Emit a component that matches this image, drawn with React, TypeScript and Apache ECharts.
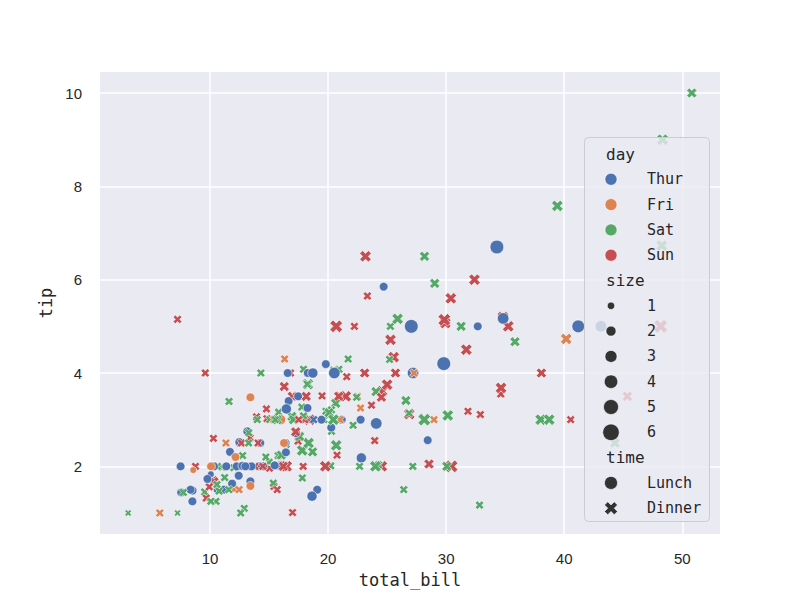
import { useEffect, useRef } from 'react';
import * as echarts from 'echarts';

const Th = 'Thur', Fr = 'Fri', Sa = 'Sat', Su = 'Sun';
const L = 'Lunch', D = 'Dinner';

const totalBill = [
  16.99, 10.34, 21.01, 23.68, 24.59, 25.29, 8.77, 26.88, 15.04, 14.78,
  10.27, 35.26, 15.42, 18.43, 14.83, 21.58, 10.33, 16.29, 16.97, 20.65,
  17.92, 20.29, 15.77, 39.42, 19.82, 17.81, 13.37, 12.69, 21.7, 19.65,
  9.55, 18.35, 15.06, 20.69, 17.78, 24.06, 16.31, 16.93, 18.69, 31.27,
  16.04, 17.46, 13.94, 9.68, 30.4, 18.29, 22.23, 32.4, 28.55, 18.04,
  12.54, 10.29, 34.81, 9.94, 25.56, 19.49, 38.01, 26.41, 11.24, 48.27,
  20.29, 13.81, 11.02, 18.29, 17.59, 20.08, 16.45, 3.07, 20.23, 15.01,
  12.02, 17.07, 26.86, 25.28, 14.73, 10.51, 17.92, 27.2, 22.76, 17.29,
  19.44, 16.66, 10.07, 32.68, 15.98, 34.83, 13.03, 18.28, 24.71, 21.16,
  28.97, 22.49, 5.75, 16.32, 22.75, 40.17, 27.28, 12.03, 21.01, 12.46,
  11.35, 15.38, 44.3, 22.42, 20.92, 15.36, 20.49, 25.21, 18.24, 14.31,
  14.0, 7.25, 38.07, 23.95, 25.71, 17.31, 29.93, 10.65, 12.43, 24.08,
  11.69, 13.42, 14.26, 15.95, 12.48, 29.8, 8.52, 14.52, 11.38, 22.82,
  19.08, 20.27, 11.17, 12.26, 18.26, 8.51, 10.33, 14.15, 16.0, 13.16,
  17.47, 34.3, 41.19, 27.05, 16.43, 8.35, 18.64, 11.87, 9.78, 7.51,
  14.07, 13.13, 17.26, 24.55, 19.77, 29.85, 48.17, 25.0, 13.39, 16.49,
  21.5, 12.66, 16.21, 13.81, 17.51, 24.52, 20.76, 31.71, 10.59, 10.63,
  50.81, 15.81, 7.25, 31.85, 16.82, 32.9, 17.89, 14.48, 9.6, 34.63,
  34.65, 23.33, 45.35, 23.17, 40.55, 20.69, 20.9, 30.46, 18.15, 23.1,
  15.69, 19.81, 28.44, 15.48, 16.58, 7.56, 10.34, 43.11, 13.0, 13.51,
  18.71, 12.74, 13.0, 16.4, 20.53, 16.47, 26.59, 38.73, 24.27, 12.76,
  30.06, 25.89, 48.33, 13.27, 28.17, 12.9, 28.15, 11.59, 7.74, 30.14,
  12.16, 13.42, 8.58, 15.98, 13.42, 16.27, 10.09, 20.45, 13.28, 22.12,
  24.01, 15.69, 11.61, 10.77, 15.53, 10.07, 12.6, 32.83, 35.83, 29.03,
  27.18, 22.67, 17.82, 18.78,
];

const tip = [
  1.01, 1.66, 3.5, 3.31, 3.61, 4.71, 2.0, 3.12, 1.96, 3.23,
  1.71, 5.0, 1.57, 3.0, 3.02, 3.92, 1.67, 3.71, 3.5, 3.35,
  4.08, 2.75, 2.23, 7.58, 3.18, 2.34, 2.0, 2.0, 4.3, 3.0,
  1.45, 2.5, 3.0, 2.45, 3.27, 3.6, 2.0, 3.07, 2.31, 5.0,
  2.24, 2.54, 3.06, 1.32, 5.6, 3.0, 5.0, 6.0, 2.05, 3.0,
  2.5, 2.6, 5.2, 1.56, 4.34, 3.51, 3.0, 1.5, 1.76, 6.73,
  3.21, 2.0, 1.98, 3.76, 2.64, 3.15, 2.47, 1.0, 2.01, 2.09,
  1.97, 3.0, 3.14, 5.0, 2.2, 1.25, 3.08, 4.0, 3.0, 2.71,
  3.0, 3.4, 1.83, 5.0, 2.03, 5.17, 2.0, 4.0, 5.85, 3.0,
  3.0, 3.5, 1.0, 4.3, 3.25, 4.73, 4.0, 1.5, 3.0, 1.5,
  2.5, 3.0, 2.5, 3.48, 4.08, 1.64, 4.06, 4.29, 3.76, 4.0,
  3.0, 1.0, 4.0, 2.55, 4.0, 3.5, 5.07, 1.5, 1.8, 2.92,
  2.31, 1.68, 2.5, 2.0, 2.52, 4.2, 1.48, 2.0, 2.0, 2.18,
  1.5, 2.83, 1.5, 2.0, 3.25, 1.25, 2.0, 2.0, 2.0, 2.75,
  3.5, 6.7, 5.0, 5.0, 2.3, 1.5, 1.36, 1.63, 1.73, 2.0,
  2.5, 2.0, 2.74, 2.0, 2.0, 5.14, 5.0, 3.75, 2.61, 2.0,
  3.5, 2.5, 2.0, 2.0, 3.0, 3.48, 2.24, 4.5, 1.61, 2.0,
  10.0, 3.16, 5.15, 3.18, 4.0, 3.11, 2.0, 2.0, 4.0, 3.55,
  3.68, 5.65, 3.5, 6.5, 3.0, 5.0, 3.5, 2.0, 3.5, 4.0,
  1.5, 4.19, 2.56, 2.02, 4.0, 1.44, 2.0, 5.0, 2.0, 2.0,
  4.0, 2.01, 2.0, 2.5, 4.0, 3.23, 3.41, 3.0, 2.03, 2.23,
  2.0, 5.16, 9.0, 2.5, 6.5, 1.1, 3.0, 1.5, 1.44, 3.09,
  2.2, 3.48, 1.92, 3.0, 1.58, 2.5, 2.0, 3.0, 2.72, 2.88,
  2.0, 3.0, 3.39, 1.47, 3.0, 1.25, 1.0, 1.17, 4.67, 5.92,
  2.0, 2.0, 1.75, 3.0,
];

const day = [
  Su, Su, Su, Su, Su, Su, Su, Su, Su, Su,
  Su, Su, Su, Su, Su, Su, Su, Su, Su, Sa,
  Sa, Sa, Sa, Sa, Sa, Sa, Sa, Sa, Sa, Sa,
  Sa, Sa, Sa, Sa, Sa, Sa, Sa, Sa, Sa, Sa,
  Sa, Su, Su, Su, Su, Su, Su, Su, Su, Su,
  Su, Su, Su, Su, Su, Su, Sa, Sa, Sa, Sa,
  Sa, Sa, Sa, Sa, Sa, Sa, Sa, Sa, Sa, Sa,
  Sa, Sa, Sa, Sa, Sa, Sa, Sa, Th, Th, Th,
  Th, Th, Th, Th, Th, Th, Th, Th, Th, Th,
  Fr, Fr, Fr, Fr, Fr, Fr, Fr, Fr, Fr, Fr,
  Fr, Fr, Sa, Sa, Sa, Sa, Sa, Sa, Sa, Sa,
  Sa, Sa, Su, Su, Su, Su, Su, Th, Th, Th,
  Th, Th, Th, Th, Th, Th, Th, Th, Th, Th,
  Th, Th, Th, Th, Th, Th, Th, Th, Th, Th,
  Th, Th, Th, Th, Th, Th, Th, Th, Th, Th,
  Su, Su, Su, Su, Su, Su, Su, Su, Su, Su,
  Su, Su, Su, Su, Su, Su, Su, Su, Sa, Sa,
  Sa, Sa, Su, Su, Su, Su, Su, Su, Su, Su,
  Su, Su, Su, Su, Su, Su, Su, Su, Su, Su,
  Su, Th, Th, Th, Th, Th, Th, Th, Th, Th,
  Th, Th, Th, Th, Th, Th, Sa, Sa, Sa, Sa,
  Sa, Sa, Sa, Sa, Sa, Sa, Sa, Sa, Sa, Sa,
  Fr, Fr, Fr, Fr, Fr, Fr, Fr, Sa, Sa, Sa,
  Sa, Sa, Sa, Sa, Sa, Sa, Sa, Sa, Sa, Sa,
  Sa, Sa, Sa, Th,
];

const time = [
  D, D, D, D, D, D, D, D, D, D,
  D, D, D, D, D, D, D, D, D, D,
  D, D, D, D, D, D, D, D, D, D,
  D, D, D, D, D, D, D, D, D, D,
  D, D, D, D, D, D, D, D, D, D,
  D, D, D, D, D, D, D, D, D, D,
  D, D, D, D, D, D, D, D, D, D,
  D, D, D, D, D, D, D, L, L, L,
  L, L, L, L, L, L, L, L, L, L,
  D, D, D, D, D, D, D, D, D, D,
  D, D, D, D, D, D, D, D, D, D,
  D, D, D, D, D, D, D, L, L, L,
  L, L, L, L, L, L, L, L, L, L,
  L, L, L, L, L, L, L, L, L, L,
  L, L, L, L, L, L, L, L, L, L,
  D, D, D, D, D, D, D, D, D, D,
  D, D, D, D, D, D, D, D, D, D,
  D, D, D, D, D, D, D, D, D, D,
  D, D, D, D, D, D, D, D, D, D,
  D, L, L, L, L, L, L, L, L, L,
  L, L, L, L, L, L, D, D, D, D,
  D, D, D, D, D, D, D, D, D, D,
  L, L, L, L, L, L, L, D, D, D,
  D, D, D, D, D, D, D, D, D, D,
  D, D, D, D,
];

const size = [
  2, 3, 3, 2, 4, 4, 2, 4, 2, 2,
  2, 4, 2, 4, 2, 2, 3, 3, 3, 3,
  2, 2, 2, 4, 2, 4, 2, 2, 2, 2,
  2, 4, 2, 4, 2, 3, 3, 3, 3, 3,
  3, 2, 2, 2, 4, 2, 2, 4, 3, 2,
  2, 2, 4, 2, 4, 2, 4, 2, 2, 4,
  2, 2, 2, 4, 3, 3, 2, 1, 2, 2,
  2, 3, 2, 2, 2, 2, 2, 4, 2, 2,
  2, 2, 1, 2, 2, 4, 2, 2, 2, 2,
  2, 2, 2, 2, 2, 4, 2, 2, 2, 2,
  2, 2, 3, 2, 2, 2, 2, 2, 2, 2,
  2, 1, 3, 2, 3, 2, 4, 2, 2, 4,
  2, 2, 2, 2, 2, 6, 2, 2, 2, 3,
  2, 2, 2, 2, 2, 2, 2, 2, 2, 2,
  2, 6, 5, 6, 2, 2, 3, 2, 2, 2,
  2, 2, 3, 4, 4, 5, 6, 4, 2, 4,
  4, 2, 3, 2, 2, 3, 2, 4, 2, 2,
  3, 2, 2, 2, 2, 2, 2, 2, 2, 2,
  4, 2, 3, 4, 2, 5, 3, 5, 3, 3,
  2, 2, 2, 2, 2, 2, 2, 4, 2, 2,
  3, 2, 2, 2, 4, 3, 3, 4, 2, 2,
  3, 4, 4, 2, 3, 2, 5, 2, 2, 4,
  2, 2, 1, 3, 2, 2, 2, 4, 2, 2,
  4, 3, 2, 2, 2, 2, 2, 2, 3, 3,
  2, 2, 2, 2,
];

const dayLevels = ['Thur', 'Fri', 'Sat', 'Sun'];
const dayColors = ['#4C72B0', '#DD8452', '#55A868', '#C44E52'];
const sizeLevels = [1, 2, 3, 4, 5, 6];
const timeLevels = ['Lunch', 'Dinner'];
const xTicks = [10, 20, 30, 40, 50];
const yTicks = [2, 4, 6, 8, 10];

const X_PATH = 'path://M-1,-2L0,-1L1,-2L2,-1L1,0L2,1L1,2L0,1L-1,2L-2,1L-1,0L-2,-1Z';
const X_UNIT = [[-1, -2], [0, -1], [1, -2], [2, -1], [1, 0], [2, 1], [1, 2], [0, 1], [-1, 2], [-2, 1], [-1, 0], [-2, -1]];

const MONO = '"DejaVu Sans Mono", "Liberation Mono", monospace';
const SANS = '"Liberation Sans", Arial, sans-serif';
const TXT = '#262626';

function markerDiameter(s: number) {
  const area = 18 + ((s - 1) / 5) * 54;
  return 1.62 * Math.sqrt(area);
}

function buildLegend() {
  const children: any[] = [];
  children.push({
    type: 'rect',
    shape: { x: 584.5, y: 137.5, width: 125, height: 384, r: 4 },
    style: { fill: 'rgba(234,234,242,0.8)', stroke: '#cccccc', lineWidth: 1 },
    z: 100,
  });
  const y0 = 154;
  const step = 25.3;
  let row = 0;
  const title = (t: string) => {
    children.push({
      type: 'text', x: 606, y: y0 + row * step, z: 101,
      style: { text: t, font: `16px ${MONO}`, fill: TXT, verticalAlign: 'middle', align: 'left' },
    });
    row++;
  };
  const label = (t: string) => {
    children.push({
      type: 'text', x: 647, y: y0 + row * step, z: 101,
      style: { text: t, font: `15px ${MONO}`, fill: TXT, verticalAlign: 'middle', align: 'left' },
    });
  };
  const circle = (r: number, color: string) => {
    children.push({
      type: 'circle', z: 101,
      shape: { cx: 611, cy: y0 + row * step, r },
      style: { fill: color, stroke: '#ffffff', lineWidth: 0.6 },
    });
  };
  title('day');
  dayLevels.forEach((d, i) => { circle(6, dayColors[i]); label(d); row++; });
  title('size');
  const legendSizes = [7.5, 10, 12, 13.5, 15, 16.5];
  sizeLevels.forEach((s, i) => { circle(legendSizes[i] / 2, '#333333'); label(String(s)); row++; });
  title('time');
  timeLevels.forEach((t) => {
    if (t === 'Lunch') {
      circle(6.5, '#333333');
    } else {
      const cy = y0 + row * step;
      const k = 13 / 4;
      children.push({
        type: 'polygon', z: 101,
        shape: { points: X_UNIT.map(([a, b]) => [611 + a * k, cy + b * k]) },
        style: { fill: '#333333', stroke: '#ffffff', lineWidth: 0.6 },
      });
    }
    label(t);
    row++;
  });
  return children;
}

export default function App() {
  const ref = useRef<HTMLDivElement>(null);
  useEffect(() => {
    if (!ref.current) return;
    const chart = echarts.init(ref.current, null, { renderer: 'svg' });
    const data = totalBill.map((x, i) => ({
      value: [x, tip[i]],
      symbol: time[i] === 'Lunch' ? 'circle' : X_PATH,
      symbolSize: markerDiameter(size[i]),
      itemStyle: { color: dayColors[dayLevels.indexOf(day[i])] },
    }));
    chart.setOption({
      animation: false,
      backgroundColor: '#ffffff',
      grid: {
        left: 100, top: 72, width: 620, height: 462,
        show: true, backgroundColor: '#EAEAF2', borderWidth: 0,
      },
      xAxis: {
        type: 'value', min: 0.683, max: 53.197,
        name: 'total_bill', nameLocation: 'middle', nameGap: 37,
        nameTextStyle: { fontFamily: MONO, fontSize: 17, color: TXT },
        axisLine: { show: false },
        axisTick: { show: false, customValues: xTicks },
        axisLabel: { customValues: xTicks, margin: 17, fontFamily: SANS, fontSize: 15, color: TXT },
        splitLine: { show: true, lineStyle: { color: '#ffffff', width: 1.5 } },
      },
      yAxis: {
        type: 'value', min: 0.55, max: 10.45,
        name: 'tip', nameLocation: 'middle', nameGap: 42,
        nameTextStyle: { fontFamily: MONO, fontSize: 17, color: TXT },
        axisLine: { show: false },
        axisTick: { show: false, customValues: yTicks },
        axisLabel: { customValues: yTicks, margin: 18, fontFamily: SANS, fontSize: 15, color: TXT },
        splitLine: { show: true, lineStyle: { color: '#ffffff', width: 1.5 } },
      },
      series: [{
        type: 'scatter',
        data,
        itemStyle: { borderColor: '#ffffff', borderWidth: 0.6, opacity: 1 },
        emphasis: { disabled: true },
        z: 3,
      }],
      graphic: buildLegend(),
    });
    return () => chart.dispose();
  }, []);
  return <div ref={ref} style={{ position: 'fixed', left: 0, top: 0, width: 800, height: 600 }} />;
}
